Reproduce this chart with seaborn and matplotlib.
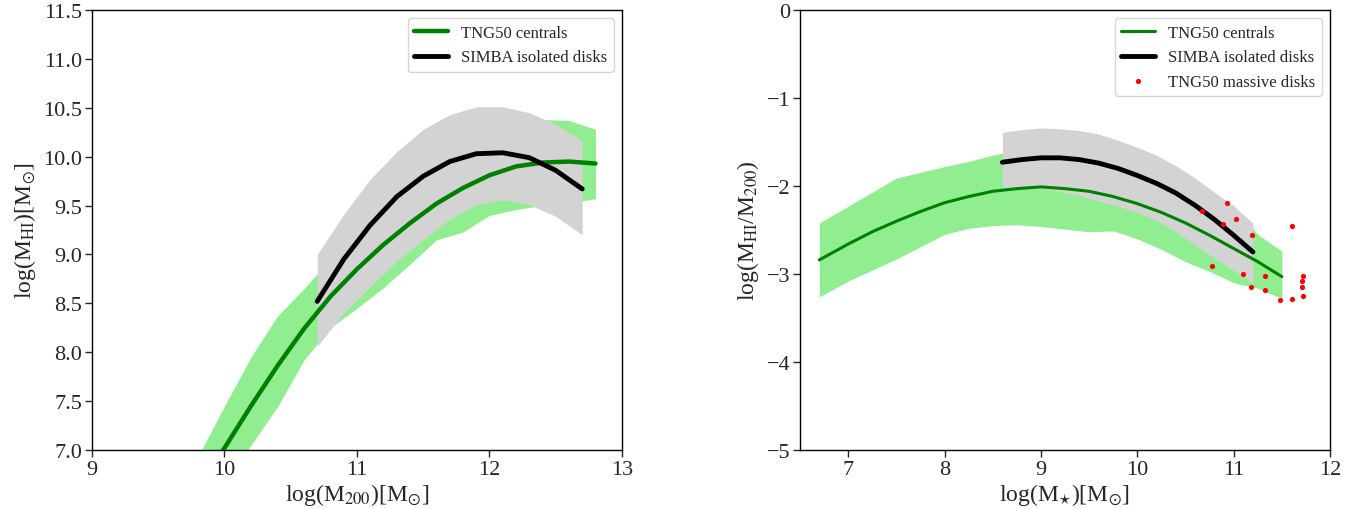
import matplotlib
matplotlib.use("Agg")
import matplotlib.pyplot as plt
import seaborn as sns

sns.set_theme(style="ticks")
plt.rcParams['font.family'] = ['Liberation Serif', 'DejaVu Serif']
plt.rcParams['mathtext.fontset'] = 'stix'
plt.rcParams['axes.linewidth'] = 1.0
plt.rcParams['xtick.labelsize'] = 16
plt.rcParams['ytick.labelsize'] = 16
plt.rcParams['axes.labelsize'] = 17

# ---- left panel: HI mass vs halo mass ----
tng_m200 = [9.8, 10.0, 10.2, 10.4, 10.6, 10.8, 11.0, 11.2, 11.4, 11.6, 11.8, 12.0, 12.2, 12.4, 12.6, 12.8]
tng_mhi = [6.62, 7.02, 7.45, 7.86, 8.24, 8.57, 8.85, 9.10, 9.32, 9.52, 9.68, 9.81, 9.90, 9.94, 9.95, 9.93]
tng_mhi_hi = [6.93, 7.45, 7.95, 8.37, 8.65, 8.95, 9.25, 9.50, 9.75, 9.95, 10.10, 10.20, 10.30, 10.38, 10.37, 10.28]
tng_mhi_lo = [6.30, 6.65, 7.05, 7.44, 7.92, 8.25, 8.45, 8.66, 8.90, 9.15, 9.23, 9.40, 9.46, 9.50, 9.53, 9.57]

simba_m200 = [10.7, 10.9, 11.1, 11.3, 11.5, 11.7, 11.9, 12.1, 12.3, 12.5, 12.7]
simba_mhi = [8.52, 8.95, 9.30, 9.59, 9.80, 9.95, 10.03, 10.04, 9.99, 9.86, 9.67]
simba_mhi_hi = [9.00, 9.41, 9.77, 10.05, 10.28, 10.43, 10.51, 10.51, 10.45, 10.33, 10.16]
simba_mhi_lo = [8.06, 8.40, 8.67, 8.93, 9.15, 9.36, 9.51, 9.56, 9.51, 9.39, 9.20]

# ---- right panel: HI-to-halo ratio vs stellar mass ----
tng_mstar = [6.7, 7.0, 7.25, 7.5, 7.75, 8.0, 8.25, 8.5, 8.75, 9.0, 9.25, 9.5, 9.75,
             10.0, 10.25, 10.5, 10.75, 11.0, 11.25, 11.5]
tng_ratio = [-2.84, -2.66, -2.52, -2.40, -2.29, -2.19, -2.12, -2.06, -2.03, -2.01, -2.03, -2.06, -2.12,
             -2.20, -2.30, -2.42, -2.56, -2.71, -2.86, -3.03]

tng_band_mstar = [6.7, 7.0, 7.5, 8.0, 8.25, 8.5, 8.75, 9.0, 9.25, 9.5, 9.75, 10.0, 10.25, 10.5, 10.75, 11.0, 11.25, 11.5]
tng_ratio_hi = [-2.42, -2.23, -1.91, -1.78, -1.72, -1.65, -1.60, -1.58, -1.60, -1.65, -1.72, -1.80, -1.90, -2.00, -2.12, -2.22, -2.55, -2.74]
tng_ratio_lo = [-3.26, -3.08, -2.83, -2.55, -2.48, -2.45, -2.44, -2.46, -2.49, -2.52, -2.51, -2.60, -2.72, -2.86, -2.97, -3.10, -3.16, -3.28]

simba_mstar = [8.6, 8.8, 9.0, 9.2, 9.4, 9.6, 9.8, 10.0, 10.2, 10.4, 10.6, 10.8, 11.0, 11.2]
simba_ratio = [-1.73, -1.70, -1.68, -1.68, -1.70, -1.74, -1.80, -1.88, -1.97, -2.08, -2.22, -2.38, -2.56, -2.75]
simba_ratio_hi = [-1.39, -1.36, -1.34, -1.35, -1.37, -1.41, -1.48, -1.56, -1.65, -1.77, -1.91, -2.07, -2.23, -2.42]
simba_ratio_lo = [-2.02, -2.02, -2.03, -2.06, -2.11, -2.17, -2.23, -2.30, -2.39, -2.52, -2.67, -2.82, -2.96, -3.10]

massive_mstar = [10.93, 10.67, 11.02, 10.89, 11.19, 11.61, 10.78, 11.10, 11.33, 11.72, 11.71,
                 11.71, 11.18, 11.32, 11.72, 11.61, 11.48]
massive_ratio = [-2.19, -2.28, -2.37, -2.43, -2.56, -2.46, -2.91, -3.00, -3.02, -3.02, -3.08,
                 -3.15, -3.15, -3.18, -3.25, -3.28, -3.30]

fig = plt.figure(figsize=(13.64, 5.10), dpi=100)
ax1 = fig.add_axes([0.0674, 0.1157, 0.3886, 0.8627])
ax2 = fig.add_axes([0.5865, 0.1157, 0.3886, 0.8627])

# left
ax1.fill_between(tng_m200, tng_mhi_lo, tng_mhi_hi, color='lightgreen', lw=0)
ax1.fill_between(simba_m200, simba_mhi_lo, simba_mhi_hi, color='lightgray', lw=0)
sns.lineplot(x=tng_m200, y=tng_mhi, color='green', lw=3.2, label='TNG50 centrals', ax=ax1)
sns.lineplot(x=simba_m200, y=simba_mhi, color='black', lw=3.5, label='SIMBA isolated disks', ax=ax1)
ax1.set_xlim(9, 13)
ax1.set_ylim(7.0, 11.5)
ax1.set_xticks([9, 10, 11, 12, 13])
ax1.set_yticks([7.0, 7.5, 8.0, 8.5, 9.0, 9.5, 10.0, 10.5, 11.0, 11.5])
ax1.set_yticklabels([f"{v:.1f}" for v in ax1.get_yticks()])
ax1.set_xlabel(r'log(M$_{200}$)[M$_{\odot}$]', labelpad=2)
ax1.set_ylabel(r'log(M$_{\rm HI}$)[M$_{\odot}$]', labelpad=4)
ax1.legend(loc='upper right', fontsize=12, frameon=True)

# right
ax2.fill_between(tng_band_mstar, tng_ratio_lo, tng_ratio_hi, color='lightgreen', lw=0)
ax2.fill_between(simba_mstar, simba_ratio_lo, simba_ratio_hi, color='lightgray', lw=0)
sns.lineplot(x=tng_mstar, y=tng_ratio, color='green', lw=2.2, label='TNG50 centrals', ax=ax2)
sns.lineplot(x=simba_mstar, y=simba_ratio, color='black', lw=3.5, label='SIMBA isolated disks', ax=ax2)
sns.scatterplot(x=massive_mstar, y=massive_ratio, color='red', s=14, linewidth=0,
                label='TNG50 massive disks', ax=ax2, zorder=3)
ax2.set_xlim(6.5, 12)
ax2.set_ylim(-5, 0)
ax2.set_xticks([7, 8, 9, 10, 11, 12])
ax2.set_yticks([-5, -4, -3, -2, -1, 0])
ax2.set_yticklabels(['\u22125', '\u22124', '\u22123', '\u22122', '\u22121', '0'])
ax2.set_xlabel(r'log(M$_{\star}$)[M$_{\odot}$]', labelpad=2)
ax2.set_ylabel(r'log(M$_{\rm HI}$/M$_{200}$)', labelpad=4)
ax2.legend(loc='upper right', fontsize=12, frameon=True)

for ax in (ax1, ax2):
    ax.tick_params(direction='out', length=5, width=1, pad=2)
    for s in ax.spines.values():
        s.set_color('black')

fig.savefig('out.png', dpi=100)
